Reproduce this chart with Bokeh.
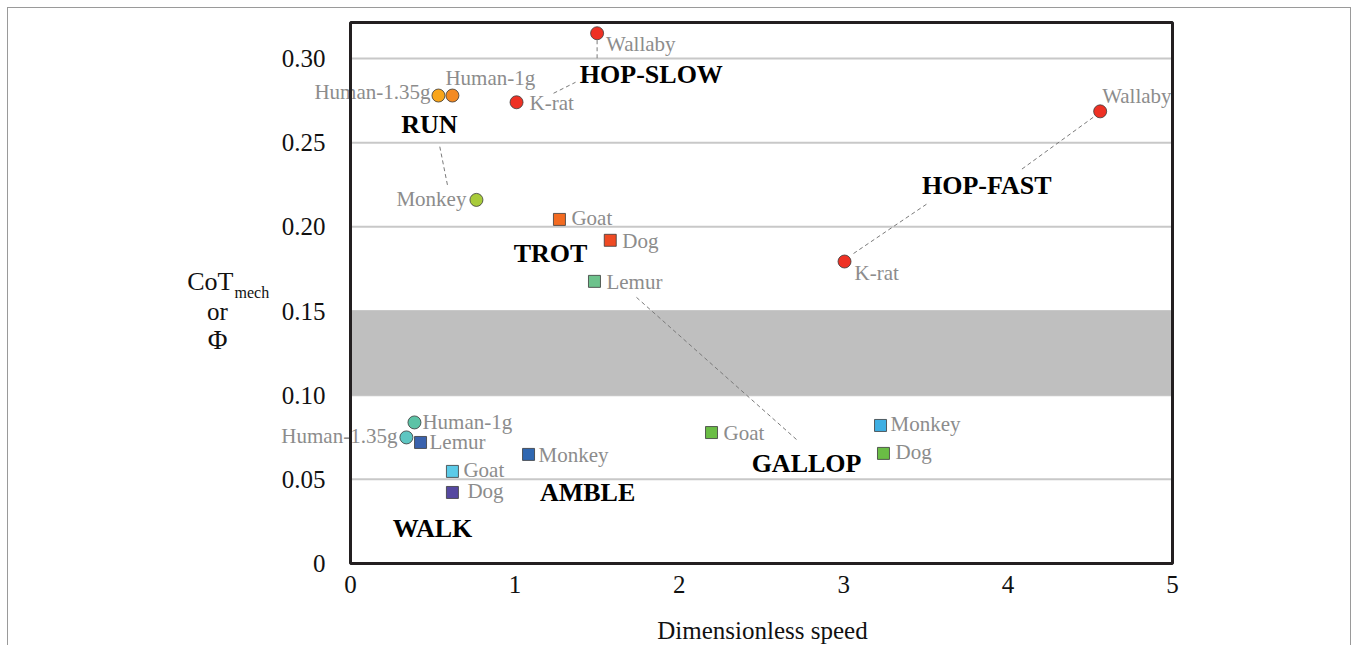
from bokeh.plotting import figure
from bokeh.models import ColumnDataSource, Range1d, FixedTicker
from bokeh.core.properties import value
from bokeh.embed import file_html
from bokeh.resources import INLINE

# ---------------- data ----------------
names = ["Wallaby", "Human-1.35g", "Human-1g", "K-rat", "Monkey", "Wallaby", "K-rat",
         "Goat", "Dog", "Lemur",
         "Human-1g", "Human-1.35g", "Lemur", "Monkey", "Goat", "Dog",
         "Goat", "Monkey", "Dog"]
speed = [1.50, 0.535, 0.62, 1.01, 0.766, 4.56, 3.005,
         1.271, 1.58, 1.484,
         0.389, 0.34, 0.426, 1.083, 0.62, 0.62,
         2.196, 3.224, 3.242]
cot = [0.315, 0.278, 0.278, 0.274, 0.216, 0.2686, 0.1794,
       0.2044, 0.192, 0.1676,
       0.0838, 0.0749, 0.0719, 0.0648, 0.0547, 0.0422,
       0.0778, 0.082, 0.0654]
shapes = ["circle"] * 7 + ["square"] * 3 + ["circle"] * 2 + ["square"] * 7
colors = ["#ee3124", "#f9a51a", "#f38a22", "#ee3124", "#a8cb3a", "#ee3124", "#ee3124",
          "#f36b21", "#ef4a23", "#6dc28c",
          "#5cc3a6", "#5ec6c2", "#3a62ad", "#2f67b1", "#5ccbe8", "#5548a0",
          "#6abd45", "#3fafe3", "#6abd45"]

gaits = ["HOP-SLOW", "RUN", "TROT", "HOP-FAST", "GALLOP", "AMBLE", "WALK"]
gait_x = [1.83, 0.48, 1.217, 3.87, 2.774, 1.442, 0.499]
gait_y = [0.2905, 0.261, 0.184, 0.2246, 0.0594, 0.0422, 0.0208]

band = [0.10, 0.15]
x_ticks = [0, 1, 2, 3, 4, 5]
y_ticks = [0, 0.05, 0.10, 0.15, 0.20, 0.25, 0.30]
x_max = 5
x_title = "Dimensionless speed"

# ---------------- styling (pixel offsets; x right, y up) ----------------
lab_dx = [9, -8, -7, 13, -10, 2, 10, 12, 12, 12, 8, -9, 9, 10, 11, 15, 12, 10, 12]
lab_dy = [-11, 4, 18, -1, 1, 15, -11, 1, -1, -1, 0, 1, 0, -1, 1, 1, 0, 1, 1]
lab_align = ["left", "right", "left", "left", "right", "left", "left",
             "left", "left", "left", "left", "right", "left", "left", "left", "left",
             "left", "left", "left"]
# leader lines: (point index, start offset px, end offset px); x right, y down
leaders = [(0, (0, 7), (0, 25)), (3, (37, -9), (59, -20)), (4, (-29, -15), (-37, -55)),
           (9, (42, 16), (203, 159)), (6, (9, -8), (83, -58)), (5, (-7, 6), (-80, 59))]

# ---------------- geometry (canvas px) ----------------
W, H = 1342, 637
BOX_L, BOX_R, BOX_T, BOX_B = 342, 1164, 14, 555      # visible plot box
PAD = 2
PAD_R = 16                                            # room for the "5" tick label
FR_L = 162                                            # frame extends left (room for y title)
S_X = (BOX_R - BOX_L) / x_max                         # px per x unit
S_Y = 505 / 0.30                                      # px per y unit
box_top = (BOX_B - BOX_T) / S_Y

x0 = -(BOX_L - FR_L) / S_X
x1 = x_max + PAD_R / S_X
y0 = -(H - BOX_B) / S_Y
y1 = box_top + PAD / S_Y

p = figure(width=W, height=H, output_backend="svg", toolbar_location=None,
           x_range=Range1d(x0, x1), y_range=Range1d(y0, y1),
           min_border_left=FR_L, min_border_top=BOX_T - PAD,
           min_border_right=W - BOX_R - PAD_R, min_border_bottom=0)
p.margin = (8, 0, 0, 8)
p.styles = {"outline": "1px solid #9a9a9a"}
p.background_fill_color = "white"
p.border_fill_color = "white"
p.outline_line_color = None
p.grid.visible = False

p.yaxis.ticker = FixedTicker(ticks=y_ticks)
p.xaxis.ticker = FixedTicker(ticks=x_ticks)
p.yaxis.fixed_location = 0
p.xaxis.fixed_location = 0
p.yaxis.major_label_overrides = {0: "0", 0.05: "0.05", 0.1: "0.10", 0.15: "0.15",
                                 0.2: "0.20", 0.25: "0.25", 0.3: "0.30"}
for ax in (p.xaxis[0], p.yaxis[0]):
    ax.axis_line_color = None
    ax.major_tick_line_color = None
    ax.minor_tick_line_color = None
    ax.major_label_text_font = "Liberation Serif"
    ax.major_label_text_font_size = "25px"
    ax.major_label_text_color = "#111111"
p.yaxis.major_label_standoff = 19
p.xaxis.major_label_standoff = 6

# gridlines (only across the plot box)
grid_y = [t for t in y_ticks if t > 0]
p.segment(x0=[0] * len(grid_y), x1=[x_max] * len(grid_y), y0=grid_y, y1=grid_y,
          line_color="#c8c8c8", line_width=2)
# grey band
p.quad(left=[0], right=[x_max], bottom=[band[0]], top=[band[1]],
       fill_color="#bfbfbf", line_color=None)

# leader lines
for idx, s, e in leaders:
    p.line([speed[idx] + s[0] / S_X, speed[idx] + e[0] / S_X],
           [cot[idx] - s[1] / S_Y, cot[idx] - e[1] / S_Y],
           line_color="#7a7a7a", line_width=1, line_dash="4 3")

# point labels
lsrc = ColumnDataSource(dict(x=[sx + d / S_X for sx, d in zip(speed, lab_dx)],
                             y=[cy + d / S_Y for cy, d in zip(cot, lab_dy)],
                             t=names, align=lab_align))
p.text("x", "y", text="t", source=lsrc, text_align="align", text_baseline="middle",
       text_font=value("Liberation Serif"), text_font_size="21px", text_color="#8c8c8c")

# plot box
p.quad(left=[0], right=[x_max], bottom=[0], top=[box_top], fill_color=None,
       line_color="#231f20", line_width=3)

# markers
src = ColumnDataSource(dict(x=speed, y=cot, marker=shapes, color=colors,
                            size=[13 if s == "circle" else 12 for s in shapes]))
p.scatter("x", "y", source=src, marker="marker", size="size", fill_color="color",
          line_color="#3a3a3a", line_width=0.8)

# gait labels
gsrc = ColumnDataSource(dict(x=gait_x, y=gait_y, t=gaits))
p.text("x", "y", text="t", source=gsrc, text_align="center", text_baseline="middle",
       text_font=value("Liberation Serif"), text_font_size="26px",
       text_font_style="bold", text_color="#000000")

# axis titles (canvas px positions)
def cx(px):
    return (px - BOX_L) / S_X

def cy_(py):
    return (BOX_B - py) / S_Y

title_parts = [("CoT", 225, 273, "26px", "right", "normal"),
               ("mech", 226, 284, "16px", "left", "normal"),
               ("or", 209, 303, "25px", "center", "normal"),
               ("Φ", 209, 331, "27px", "center", "normal"),
               (x_title, 754, 622, "25px", "center", "normal")]
for txt, xx, yy, size, align, style in title_parts:
    p.text([cx(xx)], [cy_(yy)], text=[txt], text_align=align, text_baseline="middle",
           text_font=value("Liberation Serif"), text_font_size=size,
           text_font_style=style, text_color="#111111")

open("out.html", "w").write(file_html(p, INLINE))
